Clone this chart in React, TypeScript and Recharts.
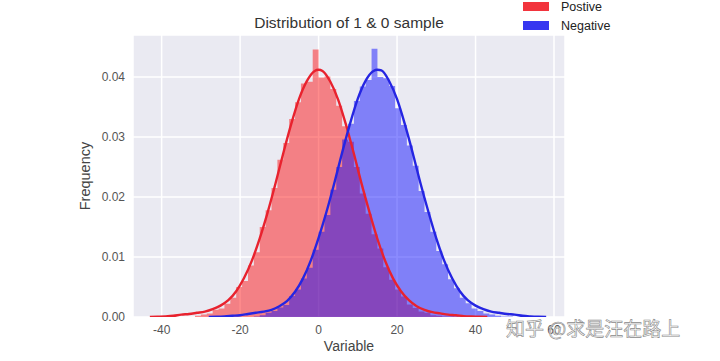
import React from 'react';
import { ComposedChart, Area, Line, XAxis, YAxis, CartesianGrid } from 'recharts';

// histogram bins (width 1.5), heights are densities
const binWidth = 1.5;
const positiveBinStart = -31.5;
const negativeBinStart = -16.5;

const positiveHist = [
  0.0002, 0.0004, 0.0006, 0.0012, 0.0014, 0.0022, 0.0032, 0.005, 0.006, 0.0086, 0.0108,
  0.015, 0.0178, 0.0215, 0.0262, 0.029, 0.033, 0.0358, 0.0389, 0.0392, 0.0446, 0.0399,
  0.0401, 0.038, 0.0352, 0.0318, 0.0292, 0.025, 0.0206, 0.0172, 0.0138, 0.0114, 0.0083,
  0.0062, 0.0046, 0.0034, 0.0021, 0.0015, 0.0009, 0.0007, 0.0003, 0.0002, 0.0001, 0.0001,
];

const negativeHist = [
  0.0001, 0.0003, 0.0007, 0.001, 0.0016, 0.002, 0.0035, 0.0046, 0.0064, 0.0082, 0.0112,
  0.0142, 0.017, 0.0212, 0.025, 0.0296, 0.0322, 0.036, 0.0384, 0.0395, 0.0447, 0.04,
  0.0398, 0.0385, 0.0348, 0.032, 0.0286, 0.0252, 0.021, 0.0175, 0.0142, 0.011, 0.0088,
  0.0063, 0.0048, 0.0032, 0.0023, 0.0014, 0.001, 0.0006, 0.0004, 0.0002, 0.0001, 0.0001,
];

// kde curves
const positiveKdeX = [
  -43, -41, -39, -37, -35, -33, -31, -29, -27, -25, -23, -21, -19, -17, -15, -13, -11, -9, -7, -5, -3, -1, 0,
  1, 3, 5, 7, 9, 11, 13, 15, 17, 19, 21, 23, 25, 27, 29, 31, 33, 35, 37, 39, 41, 43,
];
const positiveKdeY = [
  0.00001, 0.00005, 0.0001, 0.0002, 0.0004, 0.0005, 0.0007, 0.0009, 0.0013, 0.0019, 0.0028, 0.0043,
  0.0065, 0.0094, 0.0131, 0.0174, 0.0222, 0.0273, 0.0321, 0.0363, 0.0393, 0.041, 0.0412,
  0.041, 0.0392, 0.0362, 0.032, 0.0272, 0.0221, 0.0174, 0.013, 0.0093, 0.0064, 0.0043,
  0.0028, 0.0018, 0.0012, 0.0008, 0.0006, 0.0004, 0.0003, 0.00015, 0.00008, 0.00003, 0.00001,
];

const negativeKdeX = [
  -28, -26, -24, -22, -20, -18, -16, -14, -12, -10, -8, -6, -4, -2, 0, 2, 4, 6, 8, 10, 12, 14, 15,
  16, 18, 20, 22, 24, 26, 28, 30, 32, 34, 36, 38, 40, 42, 44, 46, 48, 50, 52, 54, 56, 58,
];
const negativeKdeY = [
  0.00001, 0.00004, 0.0001, 0.0002, 0.0003, 0.0005, 0.0007, 0.0009, 0.0012, 0.0018, 0.0027, 0.0042,
  0.0064, 0.0094, 0.0132, 0.0175, 0.0223, 0.0274, 0.0322, 0.0364, 0.0394, 0.041, 0.0412,
  0.0411, 0.0393, 0.0363, 0.0321, 0.0273, 0.0222, 0.0175, 0.0131, 0.0094, 0.0065, 0.0043,
  0.0028, 0.0019, 0.0013, 0.0009, 0.0007, 0.0005, 0.0004, 0.0002, 0.0001, 0.00004, 0.00001,
];

const xTicks = [-40, -20, 0, 20, 40, 60];
const yTicks = [0, 0.01, 0.02, 0.03, 0.04];

const legendItems = [
  { label: 'Postive', color: '#f2343d' },
  { label: 'Negative', color: '#3636f0' },
];

const toSteps = (start: number, heights: number[]) => {
  const rows = heights.map((h, i) => ({ x: start + i * binWidth, y: h }));
  rows.push({ x: start + heights.length * binWidth, y: 0 });
  return rows;
};

const toPoints = (xs: number[], ys: number[]) => xs.map((x, i) => ({ x, y: ys[i] }));

const font = '"Liberation Sans", Arial, sans-serif';

export default function App() {
  const posHist = toSteps(positiveBinStart, positiveHist);
  const negHist = toSteps(negativeBinStart, negativeHist);
  const posKde = toPoints(positiveKdeX, positiveKdeY);
  const negKde = toPoints(negativeKdeX, negativeKdeY);

  return (
    <div style={{ position: 'absolute', left: 0, top: 0, width: 720, height: 361, background: '#fff' }}>
      <ComposedChart width={720} height={361} margin={{ top: 35, right: 155, bottom: 14, left: 73 }}>
        <CartesianGrid fill="#EAEAF2" stroke="#fff" strokeWidth={1.5} />
        <XAxis
          dataKey="x"
          type="number"
          domain={[-47.3, 62.8]}
          ticks={xTicks}
          allowDataOverflow
          axisLine={false}
          tickLine={false}
          height={30}
          tick={{ fill: '#555', fontSize: 12, fontFamily: font }}
          label={{ value: 'Variable', position: 'insideBottom', offset: -4, fill: '#444', fontSize: 14, fontFamily: font }}
        />
        <YAxis
          dataKey="y"
          type="number"
          domain={[0, 0.047]}
          ticks={yTicks}
          allowDataOverflow
          axisLine={false}
          tickLine={false}
          width={60}
          tickFormatter={(v: number) => v.toFixed(2)}
          tick={{ fill: '#555', fontSize: 12, fontFamily: font }}
          label={{ value: 'Frequency', angle: -90, position: 'insideLeft', offset: 12, fill: '#444', fontSize: 14.5, fontFamily: font, style: { textAnchor: 'middle' } }}
        />
        <Area data={posHist} dataKey="y" type="stepAfter" stroke="none" fill="#ff0000" fillOpacity={0.45} isAnimationActive={false} />
        <Area data={negHist} dataKey="y" type="stepAfter" stroke="none" fill="#0000ff" fillOpacity={0.45} isAnimationActive={false} />
        <Line data={posKde} dataKey="y" type="monotone" stroke="#e8222e" strokeWidth={2.4} dot={false} isAnimationActive={false} />
        <Line data={negKde} dataKey="y" type="monotone" stroke="#2525e2" strokeWidth={2.4} dot={false} isAnimationActive={false} />
        <text x={349} y={28} textAnchor="middle" fill="#333" fontSize={15.5} fontFamily={font}>
          Distribution of 1 &amp; 0 sample
        </text>
      </ComposedChart>
      <div style={{ position: 'absolute', left: 523, top: -3, fontFamily: font, fontSize: 12.5, color: '#222' }}>
        {legendItems.map((item) => (
          <div key={item.label} style={{ display: 'flex', alignItems: 'center', height: 19 }}>
            <div style={{ width: 26, height: 9, background: item.color, marginRight: 12 }} />
            <span>{item.label}</span>
          </div>
        ))}
      </div>
      <div
        style={{
          position: 'absolute',
          left: 506,
          top: 314,
          fontSize: 19,
          fontFamily: '"Noto Sans CJK SC", sans-serif',
          color: '#fafafa',
          WebkitTextStroke: '0.6px #8a8a8a',
          whiteSpace: 'nowrap',
        }}
      >
        知乎 @求是汪在路上
      </div>
    </div>
  );
}
